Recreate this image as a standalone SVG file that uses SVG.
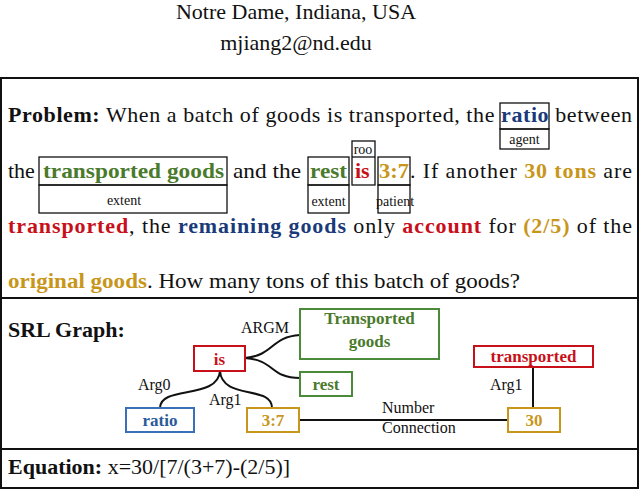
<svg xmlns="http://www.w3.org/2000/svg" width="640" height="489" viewBox="0 0 640 489">
<style>
text{font-family:"Liberation Serif",serif;fill:#111}
.t{font-size:22px}
.b{font-weight:bold}
.g{fill:#4a7a2c}.r{fill:#c8101a}.bl{fill:#1a3a7a}.o{fill:#c8961a}
.lb{font-size:14px}
.gl{font-size:16px}
.nl{font-size:17px;font-weight:bold}
.box{fill:none;stroke:#111;stroke-width:1.3}
.n{fill:#fff;stroke-width:2}
.e{fill:none;stroke:#111;stroke-width:2}
</style>
<rect width="640" height="489" fill="#fff"/>
<text x="296" y="19" text-anchor="middle" font-size="22">Notre Dame, Indiana, USA</text>
<text x="296" y="50" text-anchor="middle" font-size="22">mjiang2@nd.edu</text>
<rect x="1" y="78" width="637" height="410" fill="none" stroke="#111" stroke-width="2"/>
<line x1="1" y1="298" x2="638" y2="298" stroke="#111" stroke-width="2"/>
<line x1="1" y1="449" x2="638" y2="449" stroke="#111" stroke-width="2"/>
<g id="problem">
<text class="t" x="8" y="122" textLength="624" lengthAdjust="spacing"><tspan class="b">Problem:</tspan> When a batch of goods is transported, the <tspan class="b bl">ratio</tspan> between</text>
<text class="t" x="8" y="178">the</text>
<text class="t b g" x="43" y="178" textLength="181" lengthAdjust="spacingAndGlyphs">transported goods</text>
<text class="t" x="233" y="178" textLength="68" lengthAdjust="spacingAndGlyphs">and the</text>
<text class="t b g" x="310" y="178" textLength="37" lengthAdjust="spacingAndGlyphs">rest</text>
<text class="t b r" x="355" y="178">is</text>
<text class="t b o" x="379" y="178" textLength="30" lengthAdjust="spacingAndGlyphs">3:7</text>
<text class="t" x="410" y="178" textLength="222" lengthAdjust="spacing">. If another <tspan class="b o">30 tons</tspan> are</text>
<text class="t" x="8" y="233" textLength="624" lengthAdjust="spacing"><tspan class="b r">transported</tspan>, the <tspan class="b bl">remaining goods</tspan> only <tspan class="b r">account</tspan> for <tspan class="b o">(2/5)</tspan> of the</text>
<text class="t" x="8" y="288" textLength="512" lengthAdjust="spacingAndGlyphs"><tspan class="b o">original goods</tspan>. How many tons of this batch of goods?</text>
<rect class="box" x="500" y="103" width="49" height="26"/>
<rect class="box" x="500" y="129" width="49" height="20"/>
<text class="lb" x="524.5" y="144" text-anchor="middle">agent</text>
<rect class="box" x="39" y="157" width="188" height="28"/>
<rect class="box" x="39" y="185" width="188" height="28"/>
<text class="lb" x="124" y="205" text-anchor="middle">extent</text>
<rect class="box" x="308" y="157" width="41" height="28"/>
<rect class="box" x="308" y="185" width="41" height="28"/>
<text class="lb" x="328.5" y="206" text-anchor="middle">extent</text>
<rect class="box" x="352" y="141" width="23" height="44"/>
<line x1="352" y1="157" x2="375" y2="157" stroke="#111" stroke-width="1.3"/>
<text class="lb" x="363" y="154" text-anchor="middle">roo</text>
<rect class="box" x="378" y="157" width="32" height="28"/>
<rect class="box" x="378" y="185" width="32" height="28"/>
<text class="lb" x="395" y="206" text-anchor="middle">patient</text>
</g>
<text class="t b" x="8" y="337">SRL Graph:</text>
<g id="connectors">
<path class="e" d="M245,358 C275,355 270,337 300,335"/>
<path class="e" d="M245,358 C275,360 270,378 300,378"/>
<path class="e" d="M220,371 C218,400 160,385 160,408"/>
<path class="e" d="M220,371 C222,400 272,385 272,408"/>
<line class="e" x1="299" y1="420" x2="508" y2="420"/>
<line class="e" x1="533" y1="367" x2="533" y2="408"/>
<text class="gl" x="241" y="333">ARGM</text>
<text class="gl" x="138" y="390">Arg0</text>
<text class="gl" x="209" y="405">Arg1</text>
<text class="gl" x="490" y="390">Arg1</text>
<text class="gl" x="382" y="413">Number</text>
<text class="gl" x="382" y="433">Connection</text>
</g>
<g id="n-tg"><rect class="n" x="300" y="309" width="139" height="50" stroke="#4a8a3a"/><text class="nl g" x="369.5" y="324" text-anchor="middle">Transported</text><text class="nl g" x="369.5" y="347" text-anchor="middle">goods</text></g>
<g id="n-is"><rect class="n" x="194" y="346" width="51" height="25" stroke="#c8101a"/><text class="nl r" x="219.5" y="365" text-anchor="middle">is</text></g>
<g id="n-rest"><rect class="n" x="300" y="372" width="52" height="24" stroke="#4a8a3a"/><text class="nl g" x="326" y="390" text-anchor="middle">rest</text></g>
<g id="n-tr"><rect class="n" x="474" y="346" width="119" height="21" stroke="#c8101a"/><text class="nl r" x="533.5" y="362" text-anchor="middle">transported</text></g>
<g id="n-ratio"><rect class="n" x="126" y="408" width="68" height="24" stroke="#3a70b8"/><text class="nl" style="fill:#2a5a9a" x="160" y="426" text-anchor="middle">ratio</text></g>
<g id="n-37"><rect class="n" x="247" y="408" width="52" height="24" stroke="#c8961a"/><text class="nl o" x="273" y="426" text-anchor="middle">3:7</text></g>
<g id="n-30"><rect class="n" x="508" y="408" width="52" height="24" stroke="#c8961a"/><text class="nl o" x="534" y="426" text-anchor="middle">30</text></g>
<text class="t" x="8" y="474"><tspan class="b">Equation:</tspan> x=30/[7/(3+7)-(2/5)]</text>
</svg>
